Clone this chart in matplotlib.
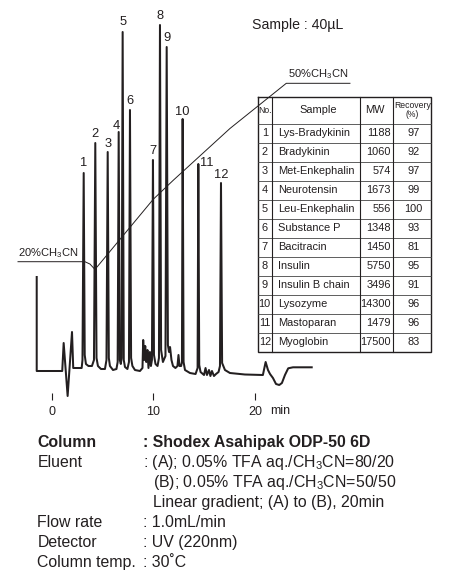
import matplotlib
matplotlib.use('Agg')
import matplotlib.pyplot as plt
import matplotlib.transforms as mtransforms

plt.rcParams['font.family'] = ['Liberation Sans', 'DejaVu Sans']
plt.rcParams['mathtext.default'] = 'regular'

INK = '#231f20'

# --- data ---------------------------------------------------------------
# peak tops: retention time (min), height (arbitrary detector units)
peak_no = ['1', '2', '3', '4', '5', '6', '7', '8', '9', '10', '11', '12']
peak_time = [3.15, 4.29, 5.51, 6.59, 6.98, 7.70, 9.96, 10.65, 11.31, 12.88, 14.42, 16.65]
peak_height = [198, 228, 219, 239, 339, 261, 211, 346, 324, 252, 207, 188]

# everything else on the trace (baseline, valleys, small bumps, solvent front)
base_time = [-1.47, -1.47, 1.04, 1.18, 1.57, 2.00, 2.12, 2.95,
             3.03, 3.25, 3.37, 3.62, 3.96,
             4.16, 4.41, 4.55, 4.85, 5.24,
             5.39, 5.62, 5.73, 6.03, 6.37,
             6.49, 6.70, 6.80, 6.88,
             7.09, 7.21, 7.45, 7.60,
             7.81, 7.94, 8.19, 8.68, 8.93, 9.00, 9.10, 9.20, 9.30, 9.42, 9.52, 9.66, 9.76, 9.86,
             10.06, 10.21, 10.41, 10.55,
             10.76, 10.94, 11.19,
             11.43, 11.54, 11.64, 11.78, 11.93, 12.17, 12.37, 12.47, 12.57, 12.73, 12.81,
             12.97, 13.11, 13.60, 14.15, 14.35,
             14.51, 14.64, 14.98, 15.13, 15.27, 15.47, 15.61, 15.76, 15.96, 16.16, 16.41, 16.55,
             16.76, 17.04, 17.53, 19.00, 20.77, 21.04, 21.27, 21.47, 21.76, 22.06, 22.38,
             22.64, 22.94, 23.26, 23.73, 25.57]
base_signal = [94, 0, 0, 28, -25, 39, 3, 3,
               11, 16, 7, 5, 5,
               11, 13, 5, 2, 2,
               11, 13, 5, 1, 2,
               9, 11, 7, 13,
               11, 4, 2, 9,
               13, 5, 1, 0, 3, 31, 11, 25, 9, 21, 3, 19, 5, 11,
               16, 7, 5, 13,
               21, 9, 15,
               26, 19, 24, 11, 5, 3, 5, 16, 5, 5, 9,
               9, 1, -2, -3, 3,
               6, -1, -4, 3, -4, 1, -5, 0, -5, -3, -1, 5,
               8, 1, -2, -3.5, -4, 9, 1, -3, -7, -13, -14,
               -12, -4, 2.7, 3.7, 3.7]

# gradient profile, % CH3CN
grad_time = [-3.31, 3.27, 3.77, 4.26, 9.99, 11.96, 17.53, 23.07, 29.33]
grad_pct = [20, 20, 19.6, 18.7, 30.5, 33.7, 42.4, 50, 50]

# table
tbl_no = ['1', '2', '3', '4', '5', '6', '7', '8', '9', '10', '11', '12']
tbl_sample = ['Lys-Bradykinin', 'Bradykinin', 'Met-Enkephalin', 'Neurotensin',
              'Leu-Enkephalin', 'Substance P', 'Bacitracin', 'Insulin',
              'Insulin B chain', 'Lysozyme', 'Mastoparan', 'Myoglobin']
tbl_mw = [1188, 1060, 574, 1673, 556, 1348, 1450, 5750, 3496, 14300, 1479, 17500]
tbl_recovery = [97, 92, 97, 99, 100, 93, 81, 95, 91, 96, 96, 83]

# merge peak tops into the trace (stable sort keeps the vertical start segment)
pts = sorted(zip(base_time + peak_time, base_signal + peak_height), key=lambda p: p[0])
trace_time = [p[0] for p in pts]
trace_signal = [p[1] for p in pts]

# --- figure ---------------------------------------------------------------
W, H = 449, 571
fig = plt.figure(figsize=(W / 100, H / 100), dpi=100)

ax = fig.add_axes([0, (H - 393) / H, 1, 393 / H])
ax.set_xlim(-5.08, 39.07)
ax.set_ylim(-22, 371)
for s in ax.spines.values():
    s.set_visible(False)
ax.set_yticks([])
ax.set_xticks([0, 10, 20])
ax.set_xticklabels(['0', '10', '20'])
ax.tick_params(axis='x', direction='out', length=5, width=0.8, pad=4.5,
               labelsize=9, colors=INK)
ax.patch.set_visible(False)

ax.plot(trace_time, trace_signal, color=INK, lw=1.45, clip_on=False,
        solid_joinstyle='round', zorder=3)

trans = mtransforms.blended_transform_factory(ax.transData, ax.transAxes)
ax.text(22.45, -0.045, 'min', transform=trans, ha='center', va='center',
        fontsize=9, color=INK)

label_offsets = {'1': (0, 7.2), '3': (0, 5.8), '4': (-1.4, 4.3), '5': (0, 7.2),
                 '10': (0, 5), '11': (6.3, 0.7), '12': (0, 5.8)}
for no, t, h in zip(peak_no, peak_time, peak_height):
    ax.annotate(no, (t, h), xytext=label_offsets.get(no, (0, 6.5)),
                textcoords='offset points', ha='center', va='center',
                fontsize=9.3, color=INK)

# gradient on a twin scale
ax2 = ax.twinx()
ax2.set_ylim(-2.08, 64.01)
ax2.axis('off')
ax2.plot(grad_time, grad_pct, color=INK, lw=0.7, zorder=1)
ax2.annotate('20%CH$_3$CN', (grad_time[0], 20), xytext=(0, 1.2),
             textcoords='offset points', ha='left', va='bottom',
             fontsize=8, color=INK)
ax2.annotate('50%CH$_3$CN', (26.2, 50), xytext=(0, 1.5),
             textcoords='offset points', ha='center', va='bottom',
             fontsize=8, color=INK)

fig.text(251.7 / W, 1 - 25 / H, 'Sample : 40µL', ha='left', va='center',
         fontsize=10.2, color=INK)

# --- table ---------------------------------------------------------------
col_edges = [0, 14.5, 102.5, 135.5, 173.5]
header_h, row_h = 26.7, 19
tot_h = header_h + row_h * len(tbl_no)
tax = fig.add_axes([257.5 / W, (H - 351.7) / H, 173.5 / W, tot_h / H])
tax.set_xlim(0, 173.5)
tax.set_ylim(tot_h, 0)
tax.axis('off')

tax.plot([0, 173.5, 173.5, 0, 0], [0, 0, tot_h, tot_h, 0], color=INK, lw=1.0,
         clip_on=False, solid_joinstyle='miter')
for i in range(len(tbl_no)):
    y = header_h + i * row_h
    tax.plot([0, 173.5], [y, y], color='#444444', lw=0.6, clip_on=False)
for x in col_edges[1:-1]:
    tax.plot([x, x], [0, tot_h], color=INK, lw=0.8, clip_on=False)

hy = header_h / 2
tax.text(7.25, hy, 'No.', ha='center', va='center', fontsize=6.2, color=INK)
tax.text(60.5, hy, 'Sample', ha='center', va='center', fontsize=7.9, color=INK)
tax.text(117, hy, 'MW', ha='center', va='center', fontsize=7.9, color=INK)
tax.text(155, hy, 'Recovery\n(%)', ha='center', va='center', fontsize=6.2,
         linespacing=1.0, color=INK)
for i, (no, name, m, r) in enumerate(zip(tbl_no, tbl_sample, tbl_mw, tbl_recovery)):
    y = header_h + (i + 0.5) * row_h
    tax.text(7.25, y, no, ha='center', va='center', fontsize=7.9, color=INK)
    tax.text(20.8, y, name, ha='left', va='center', fontsize=7.9, color=INK)
    tax.text(133.2, y, str(m), ha='right', va='center', fontsize=7.9, color=INK)
    tax.text(156, y, str(r), ha='center', va='center', fontsize=7.9, color=INK)

# --- conditions ------------------------------------------------------------
cond = [('Column', ': Shodex Asahipak ODP-50 6D', 'bold'),
        ('Eluent', ': (A); 0.05% TFA aq./CH$_3$CN=80/20', 'normal'),
        ('', '(B); 0.05% TFA aq./CH$_3$CN=50/50', 'normal'),
        ('', 'Linear gradient; (A) to (B), 20min', 'normal'),
        ('Flow rate', ': 1.0mL/min', 'normal'),
        ('Detector', ': UV (220nm)', 'normal'),
        ('Column temp.', ': 30˚C', 'normal')]
for k, (lab, val, wt) in enumerate(cond):
    yb = 1 - (447.4 + 20 * k) / H
    if lab:
        fig.text(37.3 / W, yb, lab, ha='left', va='baseline', fontsize=11.4,
                 fontweight=wt, color=INK)
    xv = 143.3 if val.startswith(':') else 153.3
    fig.text(xv / W, yb, val, ha='left', va='baseline', fontsize=11.4,
             fontweight=wt, color=INK)

fig.savefig('out.png', dpi=100)
